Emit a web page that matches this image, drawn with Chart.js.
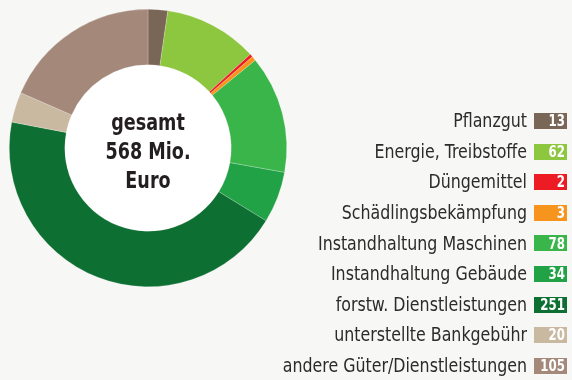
<!DOCTYPE html>
<html>
<head>
<meta charset="utf-8">
<script src="https://cdn.jsdelivr.net/npm/chart.js@4/dist/chart.umd.min.js"></script>
<style>
  html, body { margin: 0; padding: 0; background: #f7f7f5; }
  #wrap { position: relative; width: 572px; height: 380px; }
</style>
</head>
<body>
<div id="wrap"><canvas id="c" width="572" height="380"></canvas></div>
<script>
// Ausgaben in Mio. Euro
const categories = [
  "Pflanzgut",
  "Energie, Treibstoffe",
  "Düngemittel",
  "Schädlingsbekämpfung",
  "Instandhaltung Maschinen",
  "Instandhaltung Gebäude",
  "forstw. Dienstleistungen",
  "unterstellte Bankgebühr",
  "andere Güter/Dienstleistungen"
];
const values = [13, 62, 2, 3, 78, 34, 251, 20, 105];
const colors = [
  "#7a6657", "#8dc63f", "#ed1c24", "#f7941d", "#39b54a",
  "#22a246", "#0d6f31", "#c9b9a1", "#a4887a"
];
const centerLines = ["gesamt", "568 Mio.", "Euro"];

const FONT = '"Liberation Sans Narrow", "DejaVu Sans Condensed", "Arial Narrow", sans-serif';

// schmal gesetzter Text (horizontal gestaucht)
function narrowText(ctx, text, x, y, sx) {
  ctx.save();
  ctx.translate(x, y);
  ctx.scale(sx, 1);
  ctx.fillText(text, 0, 0);
  ctx.restore();
}

// Text in der Mitte des Rings
const centerText = {
  id: "centerText",
  afterDraw(chart) {
    const arc = chart.getDatasetMeta(0).data[0];
    const cx = arc.x;
    const ctx = chart.ctx;
    ctx.save();
    ctx.fillStyle = "#231f20";
    ctx.font = "bold 23px " + FONT;
    ctx.textAlign = "center";
    ctx.textBaseline = "alphabetic";
    const baselines = [130, 159, 187.5];
    centerLines.forEach((t, i) => narrowText(ctx, t, cx, baselines[i], 0.85));
    ctx.restore();
  }
};

// Legende rechts mit Wertkästchen
const sideLegend = {
  id: "sideLegend",
  afterDraw(chart) {
    const ctx = chart.ctx;
    const labels = chart.data.labels;
    const data = chart.data.datasets[0].data;
    const bg = chart.data.datasets[0].backgroundColor;
    const boxRight = 567, boxW = 33, boxH = 16;
    const top = 121, step = 30.6;
    ctx.save();
    ctx.textBaseline = "middle";
    labels.forEach((lab, i) => {
      const y = top + i * step;
      ctx.fillStyle = bg[i];
      ctx.fillRect(boxRight - boxW, Math.round(y - boxH / 2), boxW, boxH);
      ctx.fillStyle = "#ffffff";
      ctx.font = "bold 16px " + FONT;
      ctx.textAlign = "right";
      narrowText(ctx, String(data[i]), boxRight - 2, y + 1, 0.82);
      ctx.fillStyle = "#2b2b2b";
      ctx.font = "20px " + FONT;
      narrowText(ctx, lab, 527, y + 1, 0.88);
    });
    ctx.restore();
  }
};

new Chart(document.getElementById("c"), {
  type: "doughnut",
  data: {
    labels: categories,
    datasets: [{
      data: values,
      backgroundColor: colors,
      borderWidth: 0.6,
      borderColor: "rgba(255,255,255,0.35)"
    }]
  },
  options: {
    responsive: false,
    animation: false,
    cutout: "60%",
    rotation: 0,
    layout: { padding: { left: 9, top: 9, right: 285, bottom: 93 } },
    plugins: {
      legend: { display: false },
      tooltip: { enabled: false }
    }
  },
  plugins: [
    {
      id: "innerDisc",
      beforeDatasetsDraw(chart) {
        const arc = chart.getDatasetMeta(0).data[0];
        const ctx = chart.ctx;
        ctx.save();
        ctx.fillStyle = "#ffffff";
        ctx.beginPath();
        ctx.arc(arc.x, arc.y, arc.innerRadius, 0, Math.PI * 2);
        ctx.fill();
        ctx.restore();
      }
    },
    centerText,
    sideLegend
  ]
});
</script>
</body>
</html>
